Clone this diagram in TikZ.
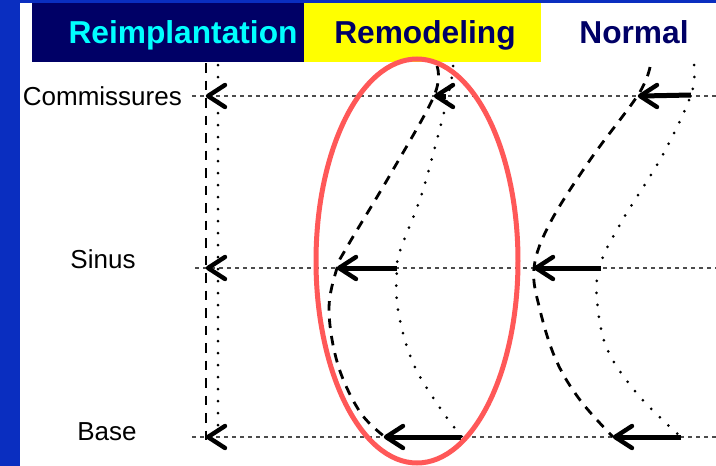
\documentclass[tikz,border=0pt]{standalone}
\usepackage{fontspec}
\setmainfont{Liberation Sans}
\definecolor{bluestrip}{HTML}{0A2EC0}
\definecolor{navy}{HTML}{000066}
\definecolor{cyanT}{HTML}{00FFFF}
\definecolor{yel}{HTML}{FFFF00}
\definecolor{ringred}{HTML}{FF5858}
\begin{document}
\begin{tikzpicture}[x=1pt,y=-1pt,
  guide/.style={draw=black!70, line width=1.2pt, dash pattern=on 4pt off 4pt},
  dashcurve/.style={line width=2.8pt, dash pattern=on 9.5pt off 8pt},
  dotcurve/.style={line width=3pt, line cap=round, dash pattern=on 0pt off 12pt},
  shaft/.style={line width=5pt},
  chev/.style={line width=4.4pt, line cap=round, line join=round},
  headtext/.style={font=\fontsize{31.7}{36}\selectfont\bfseries, inner sep=0pt, anchor=base},
  lab/.style={font=\fontsize{26}{30}\selectfont, inner sep=0pt, anchor=base},
  chevron/.pic={\draw[chev] (17,-11) -- (0,0) -- (17,11);}
]
\useasboundingbox (0,0) rectangle (716,466);
% background
\fill[bluestrip] (0,0) rectangle (716,466);
\fill[white] (20,3) rectangle (716,466);
\fill[navy] (32,3) rectangle (304,62);
\fill[yel] (304,3) rectangle (541,62);
% headers
\node[headtext, text=cyanT] (hReimp) at (183,43) {Reimplantation};
\node[headtext, text=navy] (hRemod) at (425,43) {Remodeling};
\node[headtext, text=navy] (hNorm) at (634,43) {Normal};
% row labels
\node[lab, anchor=base east] (lCom) at (182,105) {Commissures};
\node[lab] (lSin) at (103,268) {Sinus};
\node[lab] (lBas) at (107,440) {Base};
% guide lines
\coordinate (gC0) at (192,96);  \coordinate (gC1) at (716,96);
\coordinate (gS0) at (195,268); \coordinate (gS1) at (716,268);
\coordinate (gB0) at (192,437); \coordinate (gB1) at (716,437);
\draw[guide] (gC0) -- (gC1);
\draw[guide] (gS0) -- (gS1);
\draw[guide] (gB0) -- (gB1);
% reimplantation
\coordinate (rDa) at (206,63); \coordinate (rDb) at (206,445);
\coordinate (rOa) at (218,65); \coordinate (rOb) at (218,436);
\draw[dashcurve] (rDa) -- (rDb);
\draw[dotcurve] (rOa) -- (rOb);
\pic at (208,96) {chevron};
\pic at (208,268) {chevron};
\pic at (208,437) {chevron};
% remodeling curves
\draw[dashcurve] plot[smooth, tension=0.6] coordinates {(437,66) (434,96) (390,175) (347,247) (337,268) (329,310) (338,365) (360,412) (385,437)};
\draw[dotcurve] plot[smooth, tension=0.6] coordinates {(453,66) (448,96) (423,190) (401,248) (397,268) (398,310) (413,363) (440,408) (462,437)};
% normal curves
\draw[dashcurve] plot[smooth, tension=0.6] coordinates {(650,67) (638,95) (590,160) (550,223) (534,268) (540,310) (556,360) (580,400) (613,437)};
\draw[dotcurve] plot[smooth, tension=0.6] coordinates {(694,65) (691,95) (661,158) (622,221) (599,268) (598,310) (609,353) (640,397) (681,437)};
% arrows remodeling
\coordinate (mCtip) at (434,96); \coordinate (mCtail) at (446,96);
\coordinate (mStip) at (337,268); \coordinate (mStail) at (397,268);
\coordinate (mBtip) at (384,437); \coordinate (mBtail) at (461,437);
\draw[shaft] (mCtail) -- ([xshift=4pt]mCtip);
\draw[shaft] (mStail) -- ([xshift=4pt]mStip);
\draw[shaft] (mBtail) -- ([xshift=4pt]mBtip);
\pic at ([xshift=2pt]mCtip) {chevron};
\pic at ([xshift=2pt]mStip) {chevron};
\pic at ([xshift=2pt]mBtip) {chevron};
% arrows normal
\coordinate (nCtip) at (638,96); \coordinate (nCtail) at (691,95);
\coordinate (nStip) at (534,268); \coordinate (nStail) at (601,268);
\coordinate (nBtip) at (613,437); \coordinate (nBtail) at (681,437);
\draw[shaft] (nCtail) -- ([xshift=4pt]nCtip);
\draw[shaft] (nStail) -- ([xshift=4pt]nStip);
\draw[shaft] (nBtail) -- ([xshift=4pt]nBtip);
\pic at ([xshift=2pt]nCtip) {chevron};
\pic at ([xshift=2pt]nStip) {chevron};
\pic at ([xshift=2pt]nBtip) {chevron};
% red ring
\draw[ringred, line width=5pt] (417,261) ellipse [x radius=101, y radius=202];
\end{tikzpicture}
\end{document}
